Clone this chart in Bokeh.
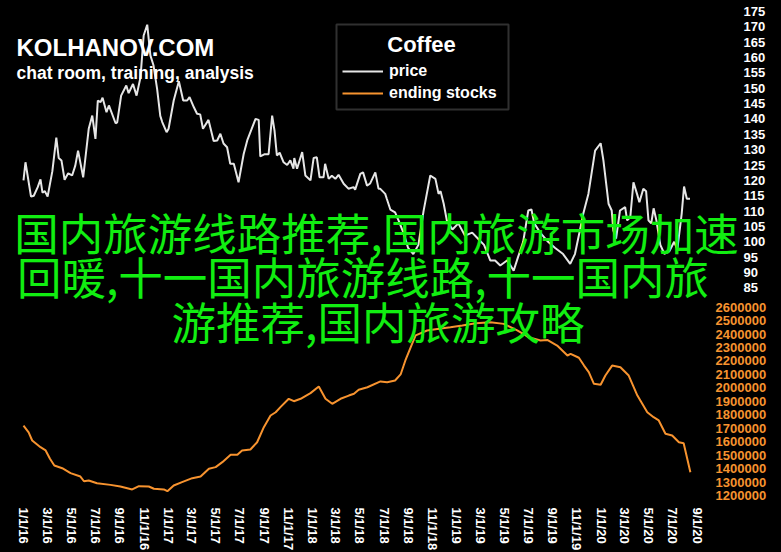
import pandas as pd
from bokeh.plotting import figure
from bokeh.models import (Range1d, LinearAxis, FixedTicker, BasicTickFormatter, Legend,
                          LegendItem, Label, BoxAnnotation, GlobalInlineStyleSheet)
from bokeh.embed import file_html
from bokeh.resources import INLINE

# ---------------- data ----------------
price_dates = [
    "2016-01-01", "2016-01-06", "2016-01-20", "2016-01-27", "2016-02-06", "2016-02-13", "2016-02-18",
    "2016-02-24", "2016-03-02", "2016-03-14", "2016-03-24", "2016-03-30", "2016-04-06", "2016-04-14",
    "2016-04-23", "2016-05-03", "2016-05-11", "2016-05-18", "2016-05-31", "2016-06-14", "2016-06-23",
    "2016-07-01", "2016-07-07", "2016-07-14", "2016-07-19", "2016-07-29", "2016-08-04", "2016-08-21",
    "2016-08-25", "2016-09-04", "2016-09-17", "2016-09-23", "2016-10-04", "2016-10-13", "2016-10-23",
    "2016-10-31", "2016-11-09", "2016-11-17", "2016-11-25", "2016-12-04", "2016-12-12", "2016-12-17",
    "2016-12-28", "2017-01-02", "2017-01-15", "2017-01-28", "2017-02-08", "2017-02-18", "2017-02-24",
    "2017-03-07", "2017-03-15", "2017-03-23", "2017-03-30", "2017-04-13", "2017-04-26", "2017-05-05",
    "2017-05-13", "2017-05-21", "2017-05-30", "2017-06-07", "2017-06-16", "2017-06-28", "2017-07-11",
    "2017-07-20", "2017-07-28", "2017-08-10", "2017-08-18", "2017-08-22", "2017-09-01", "2017-09-12",
    "2017-09-21", "2017-09-27", "2017-10-03", "2017-10-10", "2017-10-20", "2017-10-29", "2017-11-06",
    "2017-11-14", "2017-11-16", "2017-11-23", "2017-12-06", "2017-12-14", "2017-12-27", "2018-01-04",
    "2018-01-12", "2018-01-19", "2018-01-29", "2018-02-02", "2018-02-11", "2018-02-19", "2018-02-28",
    "2018-03-08", "2018-03-21", "2018-04-02", "2018-04-15", "2018-04-19", "2018-05-02", "2018-05-09",
    "2018-05-19", "2018-05-27", "2018-06-09", "2018-06-17", "2018-06-21", "2018-07-04", "2018-07-08",
    "2018-07-17", "2018-07-29", "2018-08-07", "2018-08-19", "2018-08-31", "2018-09-13", "2018-09-26",
    "2018-10-09", "2018-10-26", "2018-11-08", "2018-11-16", "2018-11-21", "2018-11-29", "2018-12-07",
    "2018-12-21", "2019-01-05", "2019-01-22", "2019-02-09", "2019-02-24", "2019-03-11", "2019-03-27",
    "2019-04-08", "2019-04-21", "2019-05-09", "2019-05-25", "2019-06-05", "2019-06-18", "2019-07-01",
    "2019-07-09", "2019-07-16", "2019-07-31", "2019-08-20", "2019-09-07", "2019-09-27", "2019-10-15",
    "2019-10-27", "2019-11-09", "2019-11-17", "2019-11-30", "2019-12-17", "2019-12-31", "2020-01-07",
    "2020-01-20", "2020-01-28", "2020-02-01", "2020-02-08", "2020-02-18", "2020-03-02", "2020-03-07",
    "2020-03-15", "2020-03-23", "2020-04-01", "2020-04-07", "2020-04-17", "2020-04-24", "2020-04-30",
    "2020-05-07", "2020-05-13", "2020-05-20", "2020-05-30", "2020-06-09", "2020-06-22", "2020-07-04",
    "2020-07-12", "2020-07-23", "2020-07-29", "2020-08-05", "2020-08-13",
]
price_values = [
    120, 125.9, 114.7, 115, 117.8, 120.3, 116,
    116.5, 114.7, 123, 133.9, 127.3, 126.5, 120.2,
    122.3, 121.6, 124.8, 129.7, 121, 136.8, 141.1,
    133.5, 146, 145.5, 146.9, 142.2, 144.4, 138.6,
    138.9, 147.6, 150.9, 148.4, 151.4, 147.6, 153.6,
    167.2, 170.7, 160.7, 157.4, 149.8, 141, 139,
    135.7, 136.8, 146, 152.3, 146, 146, 147.1,
    143.8, 141.7, 141.5, 136.8, 139.7, 132.8, 133,
    135.2, 132, 130.8, 125.4, 125.4, 119.4, 128.6,
    133, 135.7, 140, 139.7, 127.8, 128.5, 128.5,
    141.1, 136.2, 128.1, 129, 125.9, 125, 126.5,
    123.8, 127.3, 123.8, 129.2, 121.6, 120, 127.3,
    127.5, 121, 121, 125.4, 120.5, 121.5, 120.5,
    121.8, 118.9, 117.3, 117.8, 117, 122.1, 122.6,
    118.3, 119, 122.6, 117.3, 117.3, 115.6, 114,
    110.5, 109.6, 106.9, 103, 98, 96, 99,
    110, 121.6, 120.5, 115.6, 116.5, 112.4, 106.9,
    104, 106, 102, 103, 101, 99, 93.9,
    93.9, 92.3, 94, 90.6, 95, 100, 110.2,
    110.5, 106, 103, 100, 98, 96, 92.8,
    96, 104, 109.1, 115.6, 129.7, 132.1, 126.5,
    112.4, 110.2, 103.7, 101, 110.2, 111.3, 107,
    108, 119.4, 115.6, 112.9, 117.3, 116.5, 107,
    106, 110.9, 107, 99, 96.1, 97, 100,
    97.5, 109.1, 118, 114, 114,
]

stock_dates = [
    "2016-01-01", "2016-01-14", "2016-01-23", "2016-02-13", "2016-02-26", "2016-03-08", "2016-03-19",
    "2016-04-08", "2016-04-29", "2016-05-24", "2016-06-02", "2016-06-14", "2016-07-05", "2016-08-08",
    "2016-09-02", "2016-10-02", "2016-10-19", "2016-11-13", "2016-11-26", "2016-12-21", "2016-12-30",
    "2017-01-15", "2017-02-05", "2017-03-03", "2017-03-24", "2017-04-14", "2017-05-01", "2017-05-18",
    "2017-06-08", "2017-06-25", "2017-07-07", "2017-07-28", "2017-08-14", "2017-08-31", "2017-09-17",
    "2017-09-30", "2017-10-12", "2017-11-02", "2017-11-15", "2017-12-02", "2017-12-27", "2018-01-17",
    "2018-02-03", "2018-02-20", "2018-03-13", "2018-04-03", "2018-04-16", "2018-04-28", "2018-05-20",
    "2018-06-22", "2018-07-09", "2018-07-29", "2018-08-12", "2018-08-24", "2018-09-10", "2018-09-19",
    "2018-10-18", "2018-11-17", "2018-12-16", "2019-01-15", "2019-02-18", "2019-03-27", "2019-04-30",
    "2019-06-03", "2019-07-02", "2019-08-01", "2019-08-18", "2019-09-12", "2019-09-25", "2019-10-08",
    "2019-10-16", "2019-11-06", "2019-11-19", "2019-12-01", "2019-12-14", "2019-12-31", "2020-01-12",
    "2020-01-29", "2020-02-19", "2020-03-11", "2020-04-02", "2020-04-27", "2020-05-13", "2020-05-26",
    "2020-06-12", "2020-06-29", "2020-07-16", "2020-07-28", "2020-08-14",
]
stock_values = [
    1720000, 1670000, 1609000, 1559000, 1535000, 1473000, 1423000,
    1403000, 1366000, 1341000, 1306000, 1312000, 1291000, 1279000,
    1267000, 1245000, 1269000, 1267000, 1250000, 1245000, 1232000,
    1274000, 1299000, 1329000, 1341000, 1399000, 1411000, 1448000,
    1503000, 1503000, 1535000, 1542000, 1596000, 1708000, 1795000,
    1819000, 1857000, 1919000, 1901000, 1919000, 1961000, 2010000,
    1919000, 1882000, 1919000, 1943000, 1956000, 1986000, 2005000,
    2048000, 2042000, 2055000, 2100000, 2204000, 2328000, 2390000,
    2427000, 2439000, 2451000, 2464000, 2481000, 2488000, 2476000,
    2427000, 2377000, 2352000, 2357000, 2315000, 2278000, 2241000,
    2253000, 2224000, 2166000, 2117000, 2030000, 2023000, 2092000,
    2166000, 2154000, 2092000, 1943000, 1819000, 1782000, 1758000,
    1659000, 1646000, 1596000, 1589000, 1373000,
]

tick_dates = [
    "2016-01-01", "2016-03-01", "2016-05-01", "2016-07-01", "2016-09-01", "2016-11-01",
    "2017-01-01", "2017-03-01", "2017-05-01", "2017-07-01", "2017-09-01", "2017-11-01",
    "2018-01-01", "2018-03-01", "2018-05-01", "2018-07-01", "2018-09-01", "2018-11-01",
    "2019-01-01", "2019-03-01", "2019-05-01", "2019-07-01", "2019-09-01", "2019-11-01",
    "2020-01-01", "2020-03-01", "2020-05-01", "2020-07-01", "2020-09-01",
]
tick_labels = [
    "1/1/16", "3/1/16", "5/1/16", "7/1/16", "9/1/16", "11/1/16",
    "1/1/17", "3/1/17", "5/1/17", "7/1/17", "9/1/17", "11/1/17",
    "1/1/18", "3/1/18", "5/1/18", "7/1/18", "9/1/18", "11/1/18",
    "1/1/19", "3/1/19", "5/1/19", "7/1/19", "9/1/19", "11/1/19",
    "1/1/20", "3/1/20", "5/1/20", "7/1/20", "9/1/20",
]
price_ticks = [85, 90, 95, 100, 105, 110, 115, 120, 125, 130, 135, 140, 145, 150, 155, 160, 165, 170, 175]
stock_ticks = [1200000, 1300000, 1400000, 1500000, 1600000, 1700000, 1800000, 1900000,
               2000000, 2100000, 2200000, 2300000, 2400000, 2500000, 2600000]

title_lines = ["国内旅游线路推荐,国内旅游市场加速", "回暖,十一国内旅游线路,十一国内旅", "游推荐,国内旅游攻略"]

# ---------------- styling ----------------
BG = "#000000"
PRICE_C = "#e6e6e6"
STOCK_C = "#f7932f"
GREEN = "#11ee11"
FONT = "Liberation Sans"

FRAME_W, FRAME_H = 740, 503

t0 = pd.Timestamp("2016-01-01")
x_start = t0 - pd.Timedelta(days=58.18)
x_end = t0 + pd.Timedelta(days=1813.8)

p = figure(frame_width=FRAME_W, frame_height=FRAME_H, x_axis_type="datetime",
           x_range=Range1d(x_start, x_end), y_range=Range1d(14.77, 178.582),
           output_backend="svg", toolbar_location=None, y_axis_location=None,
           title=None, min_border=0)
p.extra_y_ranges = {"stocks": Range1d(1140520, 4880297)}
p.background_fill_color = BG
p.border_fill_color = BG
p.outline_line_color = None
p.xgrid.visible = False
p.ygrid.visible = False
p.stylesheets = [GlobalInlineStyleSheet(css="html, body { background-color: #000000; }")]

pd_price = pd.to_datetime(price_dates)
pd_stock = pd.to_datetime(stock_dates)
price_r = p.line(pd_price, price_values, line_color=PRICE_C, line_width=2)
stock_r = p.line(pd_stock, stock_values, line_color=STOCK_C, line_width=2, y_range_name="stocks")


def plain_axis(ax, color, size, standoff):
    ax.major_label_text_color = color
    ax.major_label_text_font = FONT
    ax.major_label_text_font_style = "bold"
    ax.major_label_text_font_size = size
    ax.major_label_standoff = standoff
    ax.axis_line_color = None
    ax.major_tick_line_color = None
    ax.minor_tick_line_color = None
    ax.major_tick_out = 0
    ax.major_tick_in = 0
    ax.minor_tick_out = 0
    ax.minor_tick_in = 0


# x axis
tick_ms = [float(t.value // 10**6) for t in pd.to_datetime(tick_dates)]
xa = p.xaxis[0]
xa.ticker = FixedTicker(ticks=tick_ms)
xa.major_label_overrides = {ms: lab for ms, lab in zip(tick_ms, tick_labels)}
xa.major_label_orientation = "vertical"
plain_axis(xa, "#ffffff", "13px", 4)

# right axes: stocks (inner) then price (outer, pulled back over it)
sa = LinearAxis(y_range_name="stocks", ticker=FixedTicker(ticks=stock_ticks),
                formatter=BasicTickFormatter(use_scientific=False))
pa = LinearAxis(ticker=FixedTicker(ticks=price_ticks))
plain_axis(sa, STOCK_C, "13px", -25)
plain_axis(pa, "#ffffff", "13px", -26)
p.add_layout(sa, "right")
p.add_layout(pa, "right")

# legend
legend = Legend(items=[LegendItem(label="price", renderers=[price_r]),
                       LegendItem(label="ending stocks", renderers=[stock_r])],
                location=(342, 400), padding=0, spacing=2, margin=0,
                glyph_width=41, glyph_height=20, label_height=20, label_standoff=6,
                label_text_font=FONT, label_text_font_style="bold", label_text_font_size="16px",
                label_text_color="#ffffff", background_fill_alpha=0, border_line_color=None)
p.add_layout(legend)
p.add_layout(BoxAnnotation(left=336, right=508, top=479, bottom=394,
                           left_units="screen", right_units="screen",
                           top_units="screen", bottom_units="screen",
                           fill_alpha=0, line_color="#a0a0a0", line_width=2))
p.add_layout(Label(x=421, y=458.7, x_units="screen", y_units="screen", text="Coffee",
                   text_align="center", text_baseline="alphabetic", text_color="#ffffff",
                   text_font=FONT, text_font_style="bold", text_font_size="22px"))

# branding
p.add_layout(Label(x=16, y=456.5, x_units="screen", y_units="screen", text="KOLHANOV.COM",
                   text_baseline="alphabetic", text_color="#ffffff",
                   text_font=FONT, text_font_style="bold", text_font_size="24px"))
p.add_layout(Label(x=16, y=430.5, x_units="screen", y_units="screen",
                   text="chat room, training, analysis",
                   text_baseline="alphabetic", text_color="#ffffff",
                   text_font=FONT, text_font_style="bold", text_font_size="17.5px"))

# overlay caption
for line, xs, ys in zip(title_lines, (376, 362.5, 377.5), (272.5, 228, 183.5)):
    p.add_layout(Label(x=xs, y=ys, x_units="screen", y_units="screen", text=line,
                       text_align="center", text_baseline="middle", text_color=GREEN,
                       text_font="Noto Sans CJK SC", text_font_size="44.5px"))

open("out.html", "w").write(file_html(p, INLINE))
